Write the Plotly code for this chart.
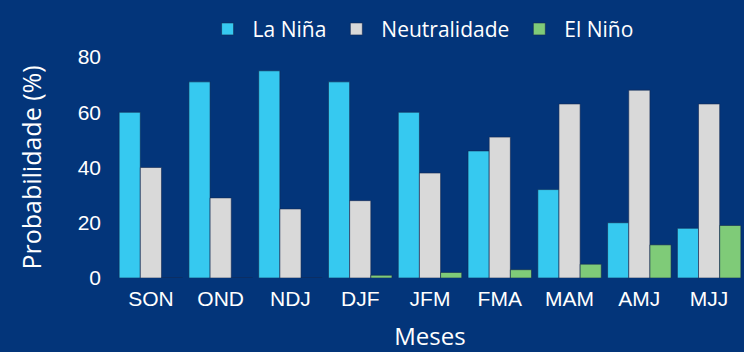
import plotly.graph_objects as go

meses = ["SON", "OND", "NDJ", "DJF", "JFM", "FMA", "MAM", "AMJ", "MJJ"]
la_nina = [60, 71, 75, 71, 60, 46, 32, 20, 18]
neutralidade = [40, 29, 25, 28, 38, 51, 63, 68, 63]
el_nino = [0, 0, 0, 1, 2, 3, 5, 12, 19]
y_ticks = [0, 20, 40, 60, 80]

bg = "#03357A"
title_font = "Open Sans, Inter, sans-serif"
tick_font = "Liberation Sans, Arial, sans-serif"

fig = go.Figure()
for name, vals, col in [
    ("La Niña", la_nina, "#36C9F0"),
    ("Neutralidade", neutralidade, "#D9D9D9"),
    ("El Niño", el_nino, "#7FCB78"),
]:
    fig.add_trace(go.Bar(
        x=meses, y=vals, name=name,
        marker=dict(color=col, line=dict(color="rgba(20,40,80,0.6)", width=1)),
    ))

fig.update_layout(
    width=744, height=352,
    paper_bgcolor=bg, plot_bgcolor=bg,
    margin=dict(l=116, r=0, t=57, b=74, autoexpand=False),
    barmode="group", bargap=0.09, bargroupgap=0,
    showlegend=True,
    legend=dict(
        orientation="h", x=0.485, xanchor="center", xref="paper",
        y=0.975, yanchor="top", yref="container",
        font=dict(family=title_font, size=21, color="white"),
        bgcolor="rgba(0,0,0,0)", itemwidth=40,
        tracegroupgap=0,
    ),
    xaxis=dict(
        showgrid=False, showline=False, zeroline=False,
        tickfont=dict(family=tick_font, size=21, color="white"),
        title=dict(text="Meses", font=dict(family=title_font, size=24, color="white"), standoff=22),
        ticks="", ticklabelstandoff=6,
    ),
    yaxis=dict(
        range=[0, 80], tickvals=y_ticks,
        showgrid=False, showline=False, zeroline=False,
        tickfont=dict(family=tick_font, size=21, color="white"),
        title=dict(text="Probabilidade (%)", font=dict(family=title_font, size=25, color="white"), standoff=28),
        ticks="", ticklabelstandoff=14,
    ),
)

fig.write_html("out.html")
